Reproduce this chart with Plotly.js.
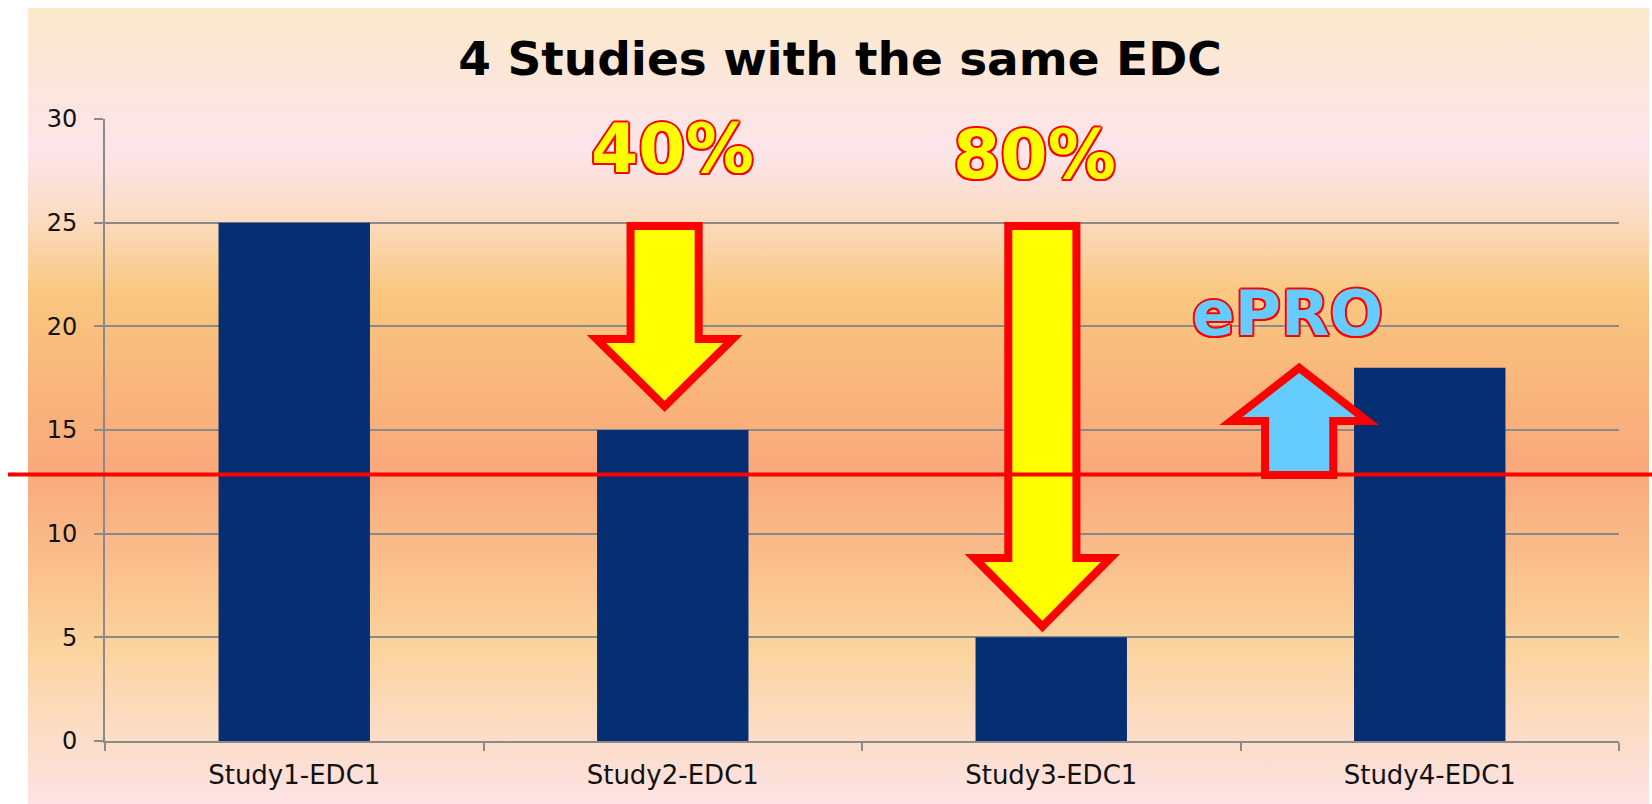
<!DOCTYPE html>
<html><head><meta charset="utf-8">
<script src="https://cdn.plot.ly/plotly-3.0.1.min.js"></script>
<style>html,body{margin:0;padding:0;background:#fff}</style>
</head><body><div id="chart" style="width:1652px;height:804px"></div>
<script>
// ---- data ----
const categories = ['Study1-EDC1', 'Study2-EDC1', 'Study3-EDC1', 'Study4-EDC1'];
const values = [25, 15, 5, 18];
const yTicks = [0, 5, 10, 15, 20, 25, 30];
const referenceLevel = 12.85;

// callout labels
const calloutText = ['40%', '80%', 'ePRO'];
const calloutX = [1.0, 1.957, 2.623];
const calloutY = [28.6, 28.27, 20.6];
const calloutFill = ['#ffff00', '#ffff00', '#66ccff'];

// block arrows (category position, start value, head base value, tip value)
const arrowX = [0.9785, 1.9765, 2.655];
const arrowStart = [24.84, 24.84, 12.83];
const arrowHead = [19.39, 8.83, 15.44];
const arrowTip = [16.14, 5.52, 18.0];
const arrowFill = ['#ffff00', '#ffff00', '#66ccff'];

// ---- geometry helpers ----
const W = 1652, H = 804;
const M = {l: 105, r: 33, t: 119, b: 63};
const PW = W - M.l - M.r, PH = H - M.t - M.b;
const px2paperX = p => (p - M.l) / PW;
const px2paperY = p => (H - M.b - p) / PH;

function arrowPath(cx, s, h, t) {
  const w = 0.09, hw = 0.18;
  return `M ${cx - w},${s} L ${cx + w},${s} L ${cx + w},${h} L ${cx + hw},${h} L ${cx},${t} L ${cx - hw},${h} L ${cx - w},${h} Z`;
}

// background gradient as svg image
const stops = [
  [0.00, '#fbe9cb'], [0.10, '#fce6dc'], [0.18, '#fce4ea'], [0.26, '#fbdcc4'],
  [0.36, '#f9c77e'], [0.47, '#f9b67c'], [0.58, '#f9a97c'], [0.70, '#fabf8c'],
  [0.80, '#fbd39c'], [0.90, '#fcdcc2'], [1.00, '#fde2e4']
];
const svg = `<svg xmlns="http://www.w3.org/2000/svg" width="10" height="100" viewBox="0 0 10 100" preserveAspectRatio="none"><defs><linearGradient id="g" x1="0" y1="0" x2="0" y2="1">${stops.map(s => `<stop offset="${s[0]}" stop-color="${s[1]}"/>`).join('')}</linearGradient></defs><rect x="0" y="0" width="10" height="100" fill="url(#g)"/></svg>`;
const bgURI = 'data:image/svg+xml;charset=utf-8,' + encodeURIComponent(svg);

const outline = c => [
  `${c} 2px 0 0`, `${c} -2px 0 0`, `${c} 0 2px 0`, `${c} 0 -2px 0`,
  `${c} 1.5px 1.5px 0`, `${c} -1.5px -1.5px 0`, `${c} 1.5px -1.5px 0`, `${c} -1.5px 1.5px 0`,
  `rgba(255,255,255,0.55) 0 0 6px`
].join(', ');

const shapes = [];
arrowX.forEach((x, i) => {
  shapes.push({
    type: 'path', xref: 'x', yref: 'y', layer: 'above',
    path: arrowPath(x, arrowStart[i], arrowHead[i], arrowTip[i]),
    fillcolor: arrowFill[i], line: {color: '#ff0000', width: 8}
  });
});
shapes.push({
  type: 'line', xref: 'paper', yref: 'y', layer: 'above',
  x0: px2paperX(8), x1: px2paperX(1652), y0: referenceLevel, y1: referenceLevel,
  line: {color: '#ff0000', width: 4}
});

const annotations = calloutText.map((t, i) => ({
  text: t, x: calloutX[i], y: calloutY[i], xref: 'x', yref: 'y',
  showarrow: false, xanchor: 'center', yanchor: 'middle',
  font: {family: 'DejaVu Sans', size: t === 'ePRO' ? 63 : 68, weight: 'bold',
         color: calloutFill[i], shadow: outline('#ff0000')}
}));

const trace = {
  type: 'bar', x: categories, y: values,
  marker: {color: '#062e72', line: {width: 0}},
  hoverinfo: 'x+y'
};

const layout = {
  width: W, height: H,
  margin: M,
  paper_bgcolor: '#ffffff',
  plot_bgcolor: 'rgba(0,0,0,0)',
  showlegend: false,
  bargap: 0.6,
  title: {
    text: '4 Studies with the same EDC',
    font: {family: 'DejaVu Sans', size: 47, weight: 'bold', color: '#000'},
    xref: 'container', yref: 'container', x: 840 / W, y: 1 - 59 / H,
    xanchor: 'center', yanchor: 'middle'
  },
  xaxis: {
    type: 'category', tickson: 'boundaries', ticks: 'outside', ticklen: 8,
    tickwidth: 2, tickcolor: '#8a8a8a', showline: true, linecolor: '#8a8a8a', linewidth: 2,
    showgrid: false, zeroline: false,
    tickfont: {family: 'DejaVu Sans', size: 26, color: '#111'},
    ticklabelstandoff: 10
  },
  yaxis: {
    range: [0, 30], tickvals: yTicks, ticks: 'outside', ticklen: 9, tickwidth: 2,
    tickcolor: '#8a8a8a', showline: true, linecolor: '#8a8a8a', linewidth: 2,
    showgrid: true, gridcolor: '#8a8a8a', gridwidth: 2, zeroline: false,
    tickfont: {family: 'DejaVu Sans', size: 24, color: '#111'},
    ticklabelstandoff: 12
  },
  images: [{
    source: bgURI, xref: 'paper', yref: 'paper',
    x: px2paperX(28), y: px2paperY(8),
    sizex: (1649 - 28) / PW, sizey: (804 - 8) / PH,
    xanchor: 'left', yanchor: 'top', sizing: 'stretch', layer: 'below'
  }],
  shapes: shapes,
  annotations: annotations
};

Plotly.newPlot('chart', [trace], layout, {displayModeBar: false, staticPlot: true});
</script>
</body></html>
